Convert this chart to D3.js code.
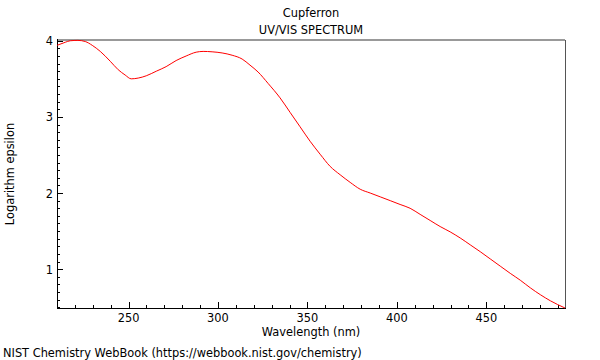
<!DOCTYPE html>
<html><head><meta charset="utf-8">
<script src="https://cdn.jsdelivr.net/npm/d3@7/dist/d3.min.js"></script>
<style>body{margin:0;background:#fff}svg{display:block;font-family:"DejaVu Sans",sans-serif}</style>
</head><body><svg id="c" width="600" height="360"></svg>
<script>
const wavelength = [210,214.6,217.4,221.7,225.8,229.7,234.2,239.8,244.2,248.1,251.5,255.4,259.9,265.5,271,276.6,282.2,287.8,291.7,296.7,302.3,307.9,313.5,317.9,322.4,328,334.7,340.3,345.9,351.5,357.1,362.7,368.3,373.9,379.5,385.1,390.7,396.3,401.8,407.4,413,418.6,424.2,429.8,435.4,441,446.6,452.2,457.8,463.4,469,474.6,480.2,485.8,494];
const logEps = [3.94,3.98,4.0,4.005,3.99,3.94,3.86,3.73,3.62,3.55,3.5,3.51,3.54,3.6,3.66,3.74,3.8,3.85,3.86,3.855,3.84,3.81,3.76,3.68,3.59,3.44,3.25,3.06,2.87,2.68,2.51,2.35,2.24,2.14,2.05,2.0,1.95,1.9,1.85,1.8,1.72,1.64,1.56,1.49,1.41,1.32,1.23,1.135,1.04,0.945,0.855,0.755,0.665,0.585,0.49];
const xTicks = [250,300,350,400,450];
const yTicks = [1,2,3,4];
const titleLines = ["Cupferron","UV/VIS SPECTRUM"];

const FS = 11.4;
const svg = d3.select("#c");
const L=57,R=565,T=40,B=308;
const x = d3.scaleLinear().domain([210,494]).range([L,R]);
const y = d3.scaleLinear().domain([0.49,4.01]).range([B,T]);

const xMinor = d3.range(220,494,10);
const yMinor = d3.range(5,41,1).map(d=>d/10);
const g = svg.append("g");
g.selectAll(".xm").data(xMinor).enter().append("line")
 .attr("x1",d=>Math.round(x(d))+0.5).attr("x2",d=>Math.round(x(d))+0.5)
 .attr("y1",B).attr("y2",d=>B-(xTicks.includes(d)?6:3)).attr("stroke","#000");
g.selectAll(".ym").data(yMinor).enter().append("line")
 .attr("y1",d=>Math.round(y(d))+0.5).attr("y2",d=>Math.round(y(d))+0.5)
 .attr("x1",L).attr("x2",d=>L+(yTicks.includes(Math.round(d*10)/10)?6:3)).attr("stroke","#000");

svg.selectAll(".xl").data(xTicks).enter().append("text")
 .attr("x",d=>x(d)).attr("y",322).attr("text-anchor","middle").attr("font-size",FS).text(d=>d);
svg.selectAll(".yl").data(yTicks).enter().append("text")
 .attr("x",53).attr("y",d=>y(d)+4.5).attr("text-anchor","end").attr("font-size",FS).text(d=>d);

svg.append("line").attr("x1",L).attr("x2",R).attr("y1",T).attr("y2",T).attr("stroke","#999").attr("stroke-width",2);
svg.append("line").attr("x1",R+0.5).attr("x2",R+0.5).attr("y1",T).attr("y2",B).attr("stroke","#555");
svg.append("line").attr("x1",L+0.5).attr("x2",L+0.5).attr("y1",T-1).attr("y2",B+0.5).attr("stroke","#000");
svg.append("line").attr("x1",L).attr("x2",R+1).attr("y1",B+0.5).attr("y2",B+0.5).attr("stroke","#000");

const pts = wavelength.map((w,i)=>[w,logEps[i]]);
svg.append("path").datum(pts)
 .attr("d",d3.line().x(d=>x(d[0])).y(d=>y(d[1])).curve(d3.curveMonotoneX))
 .attr("fill","none").attr("stroke","#ff0000").attr("stroke-width",1);

svg.append("text").attr("x",311).attr("y",17).attr("text-anchor","middle").attr("font-size",FS).text(titleLines[0]);
svg.append("text").attr("x",311).attr("y",34).attr("text-anchor","middle").attr("font-size",FS).text(titleLines[1]);
svg.append("text").attr("x",311).attr("y",336).attr("text-anchor","middle").attr("font-size",FS).text("Wavelength (nm)");
svg.append("text").attr("transform","translate(14,174) rotate(-90)").attr("text-anchor","middle").attr("font-size",FS).text("Logarithm epsilon");
svg.append("text").attr("x",3).attr("y",357).attr("font-size",FS).text("NIST Chemistry WebBook (https://webbook.nist.gov/chemistry)");
</script></body></html>
